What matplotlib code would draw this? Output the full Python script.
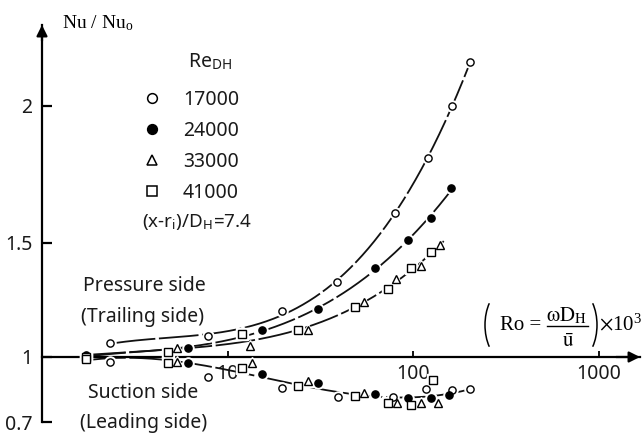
import numpy as np
import matplotlib
matplotlib.use('Agg')
import matplotlib.pyplot as plt
from matplotlib.lines import Line2D
from matplotlib.patches import Arc
from matplotlib.ticker import FixedLocator, FixedFormatter, NullLocator

# ---------------- data ----------------
re_labels = ['17000', '24000', '33000', '41000']

# pressure side (trailing side)
p17_x = [2.33, 7.85, 19.7, 38.9, 80.0, 120.5, 162.3, 202.9]
p17_y = [1.06, 1.09, 1.20, 1.33, 1.61, 1.81, 2.00, 2.16]
p24_x = [1.73, 6.13, 15.35, 30.75, 62.4, 94.0, 125.1, 160.3]
p24_y = [1.01, 1.04, 1.12, 1.21, 1.39, 1.51, 1.59, 1.70]
p33_x = [1.73, 5.34, 13.2, 27.2, 54.4, 81.0, 110.4, 139.8]
p33_y = [1.005, 1.04, 1.05, 1.12, 1.24, 1.34, 1.40, 1.49]
p41_x = [1.73, 4.75, 12.0, 24.0, 48.4, 73.3, 97.5, 125.1]
p41_y = [1.0, 1.02, 1.10, 1.12, 1.22, 1.30, 1.39, 1.46]

# suction side (leading side)
s17_x = [2.33, 7.85, 19.7, 39.2, 78.0, 118.0, 162.0, 203.0]
s17_y = [0.977, 0.908, 0.857, 0.815, 0.815, 0.852, 0.848, 0.852]
s24_x = [1.73, 6.13, 15.35, 30.75, 62.4, 94.0, 125.0, 156.0]
s24_y = [0.99, 0.972, 0.922, 0.880, 0.829, 0.811, 0.811, 0.825]
s33_x = [1.73, 5.34, 13.56, 27.0, 54.4, 81.5, 110.0, 136.0]
s33_y = [0.995, 0.977, 0.972, 0.889, 0.834, 0.788, 0.788, 0.788]
s41_x = [1.73, 4.75, 12.0, 24.0, 48.4, 73.3, 97.5, 128.0]
s41_y = [0.99, 0.972, 0.949, 0.866, 0.820, 0.788, 0.779, 0.894]

y_ticks = [0.7, 1.0, 1.5, 2.0]
y_ticklabels = ['0.7', '1', '1.5', '2']
x_ticks = [10, 100, 1000]
x_ticklabels = ['10', '100', '1000']

# ---------------- styling ----------------
W, H = 642, 434
TXT = '#1a1a1a'
plt.rcParams['mathtext.fontset'] = 'stix'
plt.rcParams['font.family'] = ['Noto Sans', 'DejaVu Sans']

# non-uniform value axis of the original figure (piecewise linear)
YV = [0.0, 0.7, 1.0, 1.5, 2.0, 3.0]
YP = [-152.0, 0.0, 65.0, 179.0, 316.0, 590.0]


def fwd(v):
    return np.interp(v, YV, YP)


def inv(p):
    return np.interp(p, YP, YV)


def fx(px):
    return px / W


def fy(py):
    return 1 - py / H


fig = plt.figure(figsize=(W / 100, H / 100), dpi=100)
ax = fig.add_axes([fx(42), 1 - 422 / H, 598 / W, 397 / H])
ax.set_xscale('log')
ax.set_yscale('function', functions=(fwd, inv))
ax.set_xlim(1, 10 ** (598 / 185.5))
ax.set_ylim(0.7, inv(397))

for s in ['top', 'right']:
    ax.spines[s].set_visible(False)
ax.spines['left'].set_linewidth(1.6)
ax.spines['bottom'].set_linewidth(1.6)
ax.spines['bottom'].set_position(('data', 1.0))

ax.xaxis.set_major_locator(FixedLocator(x_ticks))
ax.xaxis.set_major_formatter(FixedFormatter(x_ticklabels))
ax.xaxis.set_minor_locator(NullLocator())
ax.yaxis.set_major_locator(FixedLocator(y_ticks))
ax.yaxis.set_major_formatter(FixedFormatter(y_ticklabels))
ax.yaxis.set_minor_locator(NullLocator())
ax.tick_params(axis='x', direction='in', length=4, width=1.3, pad=5,
               labelsize=14, labelcolor=TXT)
ax.tick_params(axis='y', direction='in', length=7.5, width=1.6, pad=7,
               labelsize=14, labelcolor=TXT)

# axis arrows
ax.annotate('', xy=(0, 1), xycoords='axes fraction', xytext=(0, 0.96),
            arrowprops=dict(arrowstyle='-|>', lw=1.6, color='k',
                            mutation_scale=16, shrinkA=0, shrinkB=0))
ax.annotate('', xy=(1, 1.0), xycoords=('axes fraction', 'data'),
            xytext=(0.96, 1.0), textcoords=('axes fraction', 'data'),
            arrowprops=dict(arrowstyle='-|>', lw=1.6, color='k',
                            mutation_scale=16, shrinkA=0, shrinkB=0))


# ---------------- fitted curves ----------------
def fit_curve(xs, ys, x0, x1, deg=3):
    lx = np.log10(np.asarray(xs, float))
    ly = fwd(np.asarray(ys, float))
    c = np.polyfit(lx, ly, deg)
    t = np.linspace(np.log10(x0), np.log10(x1), 300)
    return 10 ** t, inv(np.polyval(c, t))


line_kw = dict(color='#111111', lw=1.3, dashes=(22, 2.0), zorder=2)
cx, cy = fit_curve(p17_x, p17_y, 2.5, max(p17_x))
ax.plot(cx, cy, **line_kw)
cx, cy = fit_curve(p24_x, p24_y, min(p24_x), max(p24_x))
ax.plot(cx, cy, **line_kw)
cx, cy = fit_curve(p33_x + p41_x, p33_y + p41_y, min(p33_x), 150)
ax.plot(cx, cy, **line_kw)
sx = s17_x + s24_x + s33_x + s41_x
sy = s17_y + s24_y + s33_y + s41_y
cx, cy = fit_curve(sx, sy, min(sx), max(sx))
ax.plot(cx, cy, **line_kw)

# ---------------- markers ----------------
styles = [('o', 'white'), ('o', 'black'), ('^', 'white'), ('s', 'white')]
pressure = [(p17_x, p17_y), (p24_x, p24_y), (p33_x, p33_y), (p41_x, p41_y)]
suction = [(s17_x, s17_y), (s24_x, s24_y), (s33_x, s33_y), (s41_x, s41_y)]
for i, ((m, fc), (px_, py_), (sx_, sy_)) in enumerate(zip(styles, pressure, suction)):
    for xs, ys in [(px_, py_), (sx_, sy_)]:
        ax.plot(xs, ys, ls='none', marker=m, ms=8, mfc='white', mec='white',
                zorder=3, clip_on=False)
    ax.plot(px_, py_, ls='none', marker=m, ms=5.2, mfc=fc, mec='black',
            mew=1.0, zorder=4, clip_on=False)
    ax.plot(sx_, sy_, ls='none', marker=m, ms=5.2, mfc=fc, mec='black',
            mew=1.0, zorder=4, clip_on=False)

# legend
leg_handles = []
for (m, fc), lab in zip(styles, re_labels):
    lh, = ax.plot([], [], ls='none', marker=m, ms=7, mfc=fc, mec='black',
                  mew=1.1, label=lab)
    leg_handles.append(lh)
ax.legend(handles=leg_handles, labels=re_labels, loc='upper left',
          bbox_to_anchor=(fx(142), fy(90)), bbox_transform=fig.transFigure,
          frameon=False, fontsize=14, labelcolor=TXT, handlelength=1.0,
          handletextpad=1.1, labelspacing=0.57, borderpad=0, borderaxespad=0)

# ---------------- texts ----------------
fig.text(fx(188), fy(67), r'Re$_{\mathregular{DH}}$', fontsize=14,
         color=TXT, ha='left', va='baseline')
fig.text(fx(142), fy(227), r'(x-r$_{\mathregular{i}}$)/D$_{\mathregular{H}}$=7.4',
         fontsize=13.5, color=TXT, ha='left', va='baseline')
fig.text(fx(83), fy(291), 'Pressure side', fontsize=14, color=TXT,
         ha='left', va='baseline')
fig.text(fx(81), fy(322), '(Trailing side)', fontsize=14, color=TXT,
         ha='left', va='baseline')
fig.text(fx(88), fy(398), 'Suction side', fontsize=14, color=TXT,
         ha='left', va='baseline')
fig.text(fx(80), fy(428), '(Leading side)', fontsize=14, color=TXT,
         ha='left', va='baseline')
fig.text(fx(62), fy(28), r'Nu / Nu$_{\mathregular{o}}$', fontsize=14,
         family='Liberation Serif', color='black', ha='left', va='baseline')

# Rotation-number definition: (Ro = omega D_H / u-bar) x 10^3
SERIF = 'Liberation Serif'
fig.add_artist(Arc((fx(505), fy(325)), 40 / W, 70 / H, theta1=116, theta2=244,
                   lw=1.1, color='black', transform=fig.transFigure))
fig.add_artist(Arc((fx(577), fy(325)), 40 / W, 70 / H, theta1=-64, theta2=64,
                   lw=1.1, color='black', transform=fig.transFigure))
fig.text(fx(500), fy(330), 'Ro =', fontsize=15, family=SERIF,
         color='black', ha='left', va='baseline')
fig.text(fx(566), fy(321), r'$\mathrm{\omega D}_{\mathrm{H}}$', fontsize=15,
         color='black', ha='center', va='baseline')
fig.add_artist(Line2D([fx(547), fx(588)], [fy(326), fy(326)], lw=1.0,
                      color='black', transform=fig.transFigure))
fig.text(fx(568), fy(347), r'$\bar{\mathrm{u}}$', fontsize=15,
         color='black', ha='center', va='baseline')
fig.text(fx(599), fy(330), r'$\times$10$^{\mathregular{3}}$', fontsize=15,
         family=SERIF, color='black', ha='left', va='baseline')

fig.savefig('out.png', dpi=100)
